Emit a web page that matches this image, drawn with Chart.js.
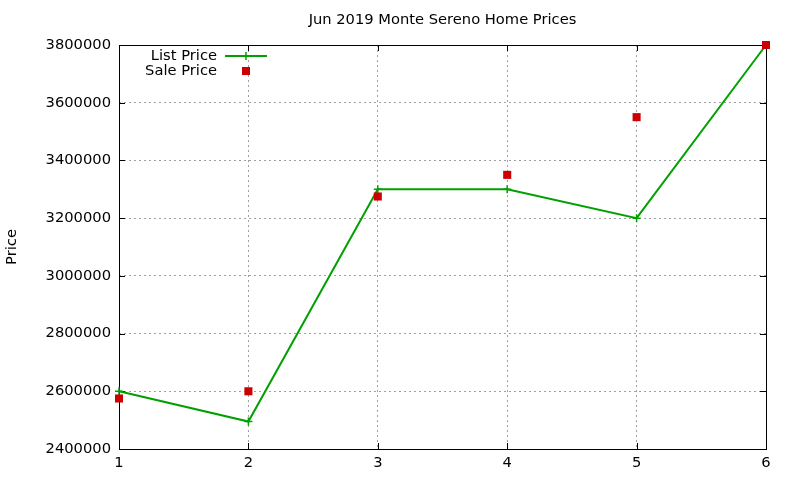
<!DOCTYPE html>
<html>
<head>
<meta charset="utf-8">
<script src="https://cdn.jsdelivr.net/npm/chart.js@4"></script>
<style>
  html, body { margin: 0; padding: 0; background: #fff; }
  #wrap { width: 800px; height: 480px; }
</style>
</head>
<body>
<div id="wrap"><canvas id="priceChart"></canvas></div>
<script>
// Values
const listMonths = [1, 2, 3, 4, 5, 6];
const listPrices = [2600000, 2495000, 3300000, 3300000, 3200000, 3800000];
const saleMonths = [1, 2, 3, 4, 5, 6];
const salePrices = [2575000, 2600000, 3275000, 3350000, 3550000, 3800000];
const yTicks = [2400000, 2600000, 2800000, 3000000, 3200000, 3400000, 3600000, 3800000];
const chartTitle = 'Jun 2019 Monte Sereno Home Prices';

const FONT = 'DejaVu Sans';
const FSIZE = 14.7;
const GREEN = '#00a000';
const RED = '#cc0000';

// gnuplot style frame: full border with inward ticks on all four sides
const framePlugin = {
    id: 'frame',
    beforeDatasetsDraw(chart) {
        const { ctx, chartArea: a, scales } = chart;
        const len = 6;
        ctx.save();
        ctx.strokeStyle = '#000';
        ctx.lineWidth = 1;
        ctx.beginPath();
        scales.x.ticks.forEach(t => {
            const px = Math.round(scales.x.getPixelForValue(t.value)) + 0.5;
            ctx.moveTo(px, a.bottom); ctx.lineTo(px, a.bottom - len);
            ctx.moveTo(px, a.top); ctx.lineTo(px, a.top + len);
        });
        scales.y.ticks.forEach(t => {
            const py = Math.round(scales.y.getPixelForValue(t.value)) + 0.5;
            ctx.moveTo(a.left, py); ctx.lineTo(a.left + len, py);
            ctx.moveTo(a.right, py); ctx.lineTo(a.right - len, py);
        });
        ctx.stroke();
        ctx.strokeRect(Math.round(a.left) + 0.5, Math.round(a.top) + 0.5,
            Math.round(a.right - a.left), Math.round(a.bottom - a.top));
        ctx.restore();
    }
};

// title centred over the plot area, and the key in the top-left corner
const keyPlugin = {
    id: 'key',
    afterDraw(chart) {
        const { ctx, chartArea: a } = chart;
        ctx.save();
        ctx.font = FSIZE + 'px "' + FONT + '"';
        ctx.fillStyle = '#000';
        ctx.textAlign = 'center';
        ctx.textBaseline = 'middle';
        ctx.fillText(chartTitle, (a.left + a.right) / 2, a.top - 25);

        const textRight = a.left + 98;
        const sampleX = a.left + 127;
        const rows = [a.top + 11, a.top + 26];
        ctx.textAlign = 'right';
        ctx.fillText('List Price', textRight, rows[0]);
        ctx.fillText('Sale Price', textRight, rows[1]);
        // list price sample: line with a plus
        ctx.strokeStyle = GREEN;
        ctx.lineWidth = 2;
        ctx.beginPath();
        ctx.moveTo(sampleX - 21, rows[0]); ctx.lineTo(sampleX + 21, rows[0]);
        ctx.stroke();
        ctx.lineWidth = 1.5;
        ctx.beginPath();
        ctx.moveTo(sampleX, rows[0] - 4); ctx.lineTo(sampleX, rows[0] + 4);
        ctx.stroke();
        // sale price sample: square
        ctx.fillStyle = RED;
        ctx.fillRect(sampleX - 4, rows[1] - 4, 8, 8);
        ctx.restore();
    }
};

window.onload = function() {
    const ctx = document.getElementById('priceChart').getContext('2d');
    new Chart(ctx, {
        type: 'scatter',
        data: {
            datasets: [{
                label: 'List Price',
                data: listMonths.map((m, i) => ({ x: m, y: listPrices[i] })),
                order: 1, // drawn underneath the sale squares
                showLine: true,
                borderColor: GREEN,
                backgroundColor: GREEN,
                borderWidth: 2,
                pointStyle: 'cross',
                pointRadius: 4,
                pointBorderWidth: 1.5,
                pointBorderColor: GREEN,
                clip: false
            }, {
                label: 'Sale Price',
                data: saleMonths.map((m, i) => ({ x: m, y: salePrices[i] })),
                order: 0,
                showLine: false,
                pointStyle: 'rect',
                pointRadius: 5.7,
                pointBorderWidth: 0,
                borderWidth: 0,
                backgroundColor: RED,
                pointBackgroundColor: RED,
                clip: false
            }]
        },
        options: {
            responsive: true,
            maintainAspectRatio: false,
            animation: false,
            layout: { padding: { left: 0, right: 34, top: 45, bottom: 0 } },
            plugins: {
                legend: { display: false },
                tooltip: { enabled: false },
                title: { display: false }
            },
            scales: {
                x: {
                    type: 'linear',
                    min: 1,
                    max: 6,
                    ticks: {
                        stepSize: 1,
                        color: '#000',
                        padding: 5,
                        font: { family: FONT, size: FSIZE }
                    },
                    grid: { color: '#a0a0a0', drawTicks: false },
                    border: { display: false, dash: [2, 3] },
                    afterFit(scale) { scale.height = 31; }
                },
                y: {
                    min: 2400000,
                    max: 3800000,
                    afterBuildTicks(scale) { scale.ticks = yTicks.map(v => ({ value: v })); },
                    ticks: {
                        color: '#000',
                        padding: 8,
                        font: { family: FONT, size: FSIZE },
                        callback: v => String(v)
                    },
                    grid: { color: '#a0a0a0', drawTicks: false },
                    border: { display: false, dash: [2, 3] },
                    title: {
                        display: true,
                        text: 'Price',
                        color: '#000',
                        font: { family: FONT, size: FSIZE },
                        padding: { top: 3, bottom: 0 }
                    },
                    afterFit(scale) { scale.width = 119; }
                }
            }
        },
        plugins: [framePlugin, keyPlugin]
    });
};
</script>
</body>
</html>
